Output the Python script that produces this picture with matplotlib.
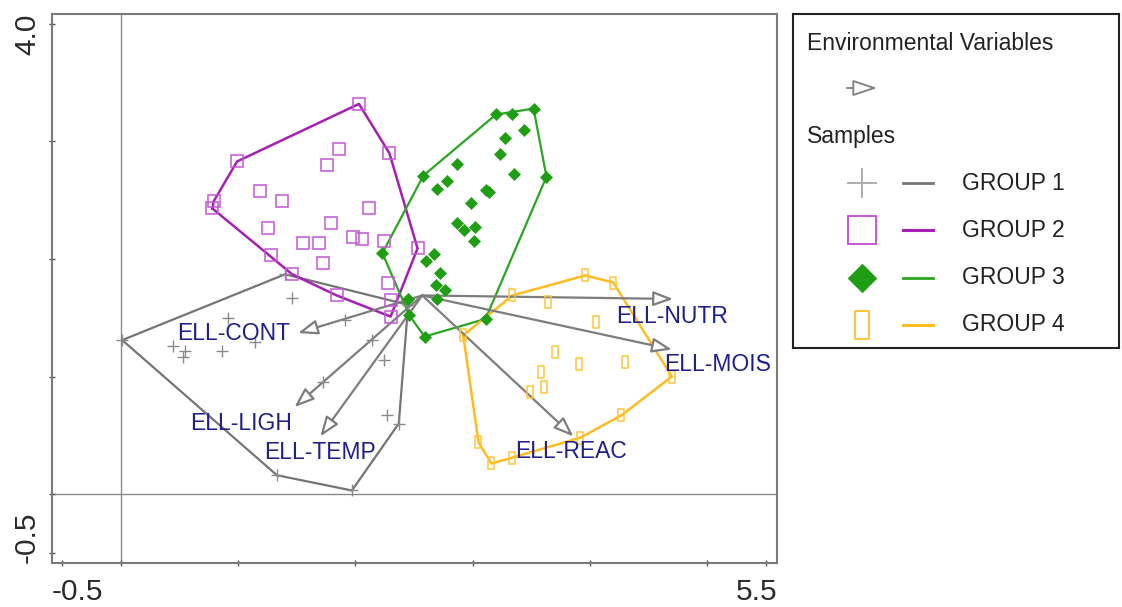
import matplotlib
matplotlib.use("Agg")
import matplotlib.pyplot as plt
from matplotlib.path import Path

plt.rcParams['font.family'] = ['Liberation Sans', 'DejaVu Sans']

# sample scores (axis 1, axis 2)
g1_x = [0.01, 1.40, 1.46, 0.91, 0.44, 0.55, 0.53, 0.86, 1.14, 1.91, 2.14, 2.24,
        1.72, 2.27, 2.37, 1.33, 1.97, 2.45]
g1_y = [1.31, 1.87, 1.67, 1.50, 1.26, 1.22, 1.17, 1.22, 1.29, 1.48, 1.31, 1.14,
        0.95, 0.67, 0.60, 0.16, 0.03, 1.61]

g2_x = [2.03, 2.29, 1.86, 1.76, 0.99, 0.79, 0.78, 1.19, 1.37, 2.12, 1.25, 1.79,
        1.55, 1.69, 1.98, 2.06, 2.24, 2.53, 1.72, 1.28, 1.46, 1.84, 2.28, 2.30, 2.30]
g2_y = [3.32, 2.90, 2.94, 2.80, 2.83, 2.49, 2.43, 2.58, 2.49, 2.43, 2.26, 2.31,
        2.14, 2.14, 2.19, 2.17, 2.15, 2.09, 1.97, 2.03, 1.87, 1.69, 1.80, 1.65, 1.51]

g3_x = [3.20, 3.34, 3.52, 3.44, 3.28, 3.23, 3.63, 3.35, 2.87, 2.78, 2.70, 2.58,
        3.11, 3.14, 2.99, 2.87, 2.93, 3.02, 3.01, 2.23, 2.67, 2.60, 2.72, 2.69,
        2.76, 2.70, 2.45, 2.46, 2.59, 3.11]
g3_y = [3.23, 3.23, 3.28, 3.10, 3.03, 2.89, 2.70, 2.72, 2.81, 2.66, 2.60, 2.71,
        2.59, 2.57, 2.48, 2.31, 2.25, 2.27, 2.15, 2.05, 2.04, 1.98, 1.88, 1.78,
        1.74, 1.66, 1.66, 1.52, 1.34, 1.49]

g4_x = [3.34, 3.64, 3.96, 4.20, 4.05, 3.70, 3.91, 4.30, 3.58, 3.61, 3.49, 4.70,
        4.27, 3.92, 3.34, 3.16, 3.05, 2.92]
g4_y = [1.69, 1.63, 1.86, 1.80, 1.46, 1.21, 1.11, 1.12, 1.04, 0.91, 0.87, 1.00,
        0.67, 0.48, 0.31, 0.26, 0.44, 1.35]

groups = ["GROUP 1", "GROUP 2", "GROUP 3", "GROUP 4"]

# environmental variables (arrows drawn from a common centre)
env_names = ["ELL-NUTR", "ELL-MOIS", "ELL-REAC", "ELL-CONT", "ELL-LIGH", "ELL-TEMP"]
env_x0, env_y0 = 2.57, 1.69
env_x = [4.71, 4.70, 3.86, 1.51, 1.48, 1.70]
env_y = [1.66, 1.23, 0.49, 1.37, 0.74, 0.49]
lab_x = [4.70, 5.09, 3.84, 0.96, 1.02, 1.70]
lab_y = [1.51, 1.10, 0.36, 1.37, 0.60, 0.35]


def convex_hull(xs, ys):
    pts = sorted(set(zip(xs, ys)))

    def cross(o, a, b):
        return (a[0] - o[0]) * (b[1] - o[1]) - (a[1] - o[1]) * (b[0] - o[0])

    lower, upper = [], []
    for p in pts:
        while len(lower) >= 2 and cross(lower[-2], lower[-1], p) <= 0:
            lower.pop()
        lower.append(p)
    for p in reversed(pts):
        while len(upper) >= 2 and cross(upper[-2], upper[-1], p) <= 0:
            upper.pop()
        upper.append(p)
    ring = lower[:-1] + upper[:-1]
    ring.append(ring[0])
    return [p[0] for p in ring], [p[1] for p in ring]


# narrow upright rectangle marker for group 4
rect = Path([(-0.25, -0.5), (0.25, -0.5), (0.25, 0.5), (-0.25, 0.5), (-0.25, -0.5)],
            [Path.MOVETO, Path.LINETO, Path.LINETO, Path.LINETO, Path.CLOSEPOLY])

styles = [
    dict(marker='+', ms=9, mfc='none', mec='#8a8a8a', mew=1.0, line='#757575', lw=1.6),
    dict(marker='s', ms=8.5, mfc='none', mec='#c458d4', mew=1.1, line='#a51fb5', lw=1.8),
    dict(marker='D', ms=6.3, mfc='#1f9e14', mec='#1f9e14', mew=0.5, line='#2aa622', lw=1.6),
    dict(marker=rect, ms=8.5, mfc='none', mec='#ffc53a', mew=1.1, line='#ffbc22', lw=1.8),
]
data = [(g1_x, g1_y), (g2_x, g2_y), (g3_x, g3_y), (g4_x, g4_y)]

fig = plt.figure(figsize=(11.22, 6.07), dpi=100)
ax = fig.add_axes([52 / 1122, 1 - 563 / 607, 725 / 1122, 549 / 607])
ax.set_xlim(-0.589, 5.597)
ax.set_ylim(-0.587, 4.085)

ax.axvline(0, color='#8a8a8a', lw=1.0, zorder=1)
ax.axhline(0, color='#8a8a8a', lw=1.0, zorder=1)

for (xs, ys), st in zip(data, styles):
    hx, hy = convex_hull(xs, ys)
    ax.plot(hx, hy, color=st['line'], lw=st['lw'], zorder=2)

for name, x1, y1 in zip(env_names, env_x, env_y):
    ax.annotate('', xy=(x1, y1), xytext=(env_x0, env_y0),
                arrowprops=dict(arrowstyle='-|>,head_length=1.2,head_width=0.45',
                                fc='white', ec='#7d7d7d', lw=1.6,
                                shrinkA=0, shrinkB=0),
                zorder=3)

for (xs, ys), st in zip(data, styles):
    ax.plot(xs, ys, ls='none', marker=st['marker'], ms=st['ms'], mfc=st['mfc'],
            mec=st['mec'], mew=st['mew'], zorder=4)

for name, lx, ly in zip(env_names, lab_x, lab_y):
    ax.text(lx, ly, name, ha='center', va='center', fontsize=16.5,
            color='#1e1e8e', zorder=6)

for s in ax.spines.values():
    s.set_color('#7a7a7a')
    s.set_linewidth(1.5)
ax.set_xticks([-0.5, 0, 1, 2, 3, 4, 5, 5.5])
ax.set_yticks([-0.5, 0, 1, 2, 3, 4])
ax.tick_params(direction='inout', length=5, width=1, color='#555555',
               labelbottom=False, labelleft=False)

# only the end values are labelled, tucked against the frame corners
tick_kw = dict(transform=ax.transAxes, fontsize=21.5, color='#2a2a2a')
ax.text(0.0, -0.068, '-0.5', ha='left', va='baseline', **tick_kw)
ax.text(1.0, -0.068, '5.5', ha='right', va='baseline', **tick_kw)
ax.text(-0.015, 1.0, '4.0', ha='right', va='top', rotation=90, **tick_kw)
ax.text(-0.015, 0.0, '-0.5', ha='right', va='bottom', rotation=90, **tick_kw)

# legend box, laid out in its own pixel-like frame
lax = fig.add_axes([793 / 1122, 1 - 348 / 607, 326 / 1122, 334 / 607])
lax.set_xlim(0, 326)
lax.set_ylim(334, 0)
lax.set_xticks([])
lax.set_yticks([])
for s in lax.spines.values():
    s.set_color('#202020')
    s.set_linewidth(1.5)

leg_fs = 16.5
lax.text(14, 29, 'Environmental Variables', fontsize=leg_fs, va='center', color='#222222')
lax.annotate('', xy=(84, 74), xytext=(54, 74),
             arrowprops=dict(arrowstyle='-|>,head_length=1.5,head_width=0.5',
                             fc='white', ec='#7d7d7d', lw=1.3, shrinkA=0, shrinkB=0))
lax.text(14, 123, 'Samples', fontsize=leg_fs, va='center', color='#222222')

legend_ms = [22, 20, 14.3, 20]
legend_mec = ['#a8a8a8', '#c458d4', '#1f9e14', '#ffc53a']
for i, (g, st) in enumerate(zip(groups, styles)):
    yy = 169 + i * 47.3
    lax.plot([69], [yy], marker=st['marker'], ms=legend_ms[i], mfc=st['mfc'],
             mec=legend_mec[i], mew=st['mew'] + 0.3, ls='none')
    lax.plot([110, 140], [yy, yy], color=st['line'], lw=st['lw'] + 0.4)
    lax.text(169, yy, g, fontsize=leg_fs, va='center', color='#222222')

fig.savefig('out.png', dpi=100)
